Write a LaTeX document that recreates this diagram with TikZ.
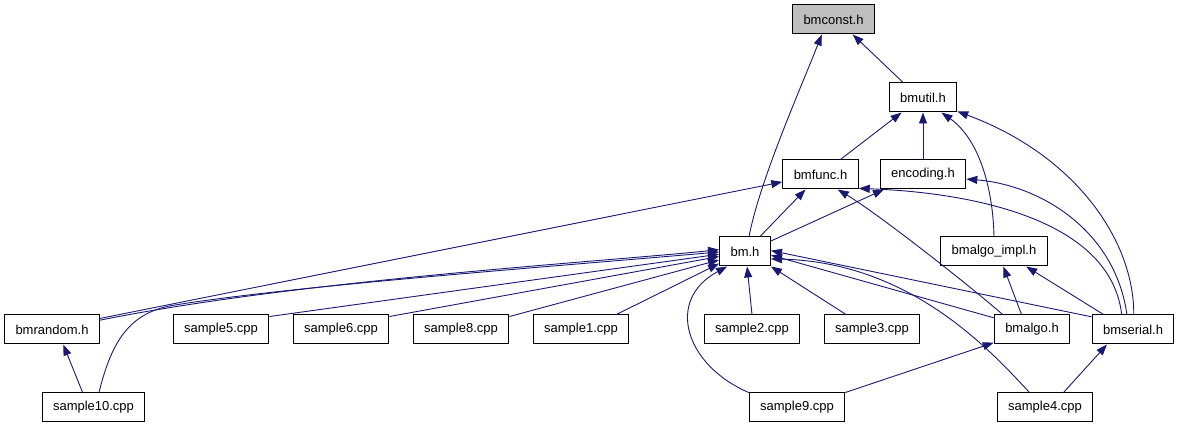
\documentclass[tikz,border=0pt]{standalone}
\usepackage{fontspec}
\setmainfont{Liberation Sans}
\usepackage{xcolor}
\usepackage{tikz}
\usetikzlibrary{arrows.meta}

\definecolor{edgeblue}{RGB}{25,25,112}
\definecolor{rootgray}{RGB}{191,191,191}

\begin{document}
\begin{tikzpicture}[x=1pt, y=-1pt, >={Triangle[length=11pt,width=8pt]},
    box/.style={draw=black, line width=1pt, fill=white, minimum height=29pt,
        inner xsep=11pt, inner ysep=0pt, font=\fontsize{13}{15}\selectfont},
    edge/.style={->, draw=edgeblue, line width=0.9pt}]
    \useasboundingbox (0,0) rectangle (1179,427);

    % 1. Các nút
    \node[box, fill=rootgray] (bmconst) at (833.5,19.5) {bmconst.h};
    \node[box] (bmutil) at (923,97.5) {bmutil.h};
    \node[box] (bmfunc) at (820.5,174.5) {bmfunc.h};
    \node[box] (encoding) at (923,174.5) {encoding.h};
    \node[box] (bm) at (745,251.5) {bm.h};
    \node[box] (bmalgoimpl) at (994,251.5) {bmalgo\_impl.h};
    \node[box] (bmrandom) at (52,329.5) {bmrandom.h};
    \node[box] (sample5) at (221,329.5) {sample5.cpp};
    \node[box] (sample6) at (341,329.5) {sample6.cpp};
    \node[box] (sample8) at (461,329.5) {sample8.cpp};
    \node[box] (sample1) at (581,329.5) {sample1.cpp};
    \node[box] (sample2) at (752,329.5) {sample2.cpp};
    \node[box] (sample3) at (872,329.5) {sample3.cpp};
    \node[box] (bmalgo) at (1032,329.5) {bmalgo.h};
    \node[box] (bmserial) at (1133,329.5) {bmserial.h};
    \node[box] (sample10) at (93.5,407.5) {sample10.cpp};
    \node[box] (sample9) at (797,407.5) {sample9.cpp};
    \node[box] (sample4) at (1045,407.5) {sample4.cpp};

    % 2. Cạnh lên bmconst.h và bmutil.h
    \draw[edge] (bm.75) .. controls (760,180) and (800,90) .. (bmconst.-128);
    \draw[edge] (bmutil.143) -- (bmconst.-38);
    \draw[edge] (bmfunc.37) -- (bmutil.-145);
    \draw[edge] (encoding.north) -- (bmutil.south);
    \draw[edge] (bmalgoimpl.north) .. controls (993,190) and (980,140) .. (bmutil.-39);
    \draw[edge] (bmserial.87) .. controls (1134,240) and (1075,155) .. (bmutil.-22);

    % 3. Cạnh lên bmfunc.h và encoding.h
    \draw[edge] (bm.45) -- (bmfunc.-135);
    \draw[edge] (bm.22) -- (encoding.-159);
    \draw[edge] (bmrandom.13) -- (bmfunc.191);
    \draw[edge] (bmalgo.153) .. controls (975,290) and (880,215) .. (bmfunc.-41);
    \draw[edge] (bmserial.127) .. controls (1110,215) and (960,192) .. (bmfunc.-20);
    \draw[edge] (bmserial.112) .. controls (1115,230) and (1040,185) .. (encoding.-6);

    % 4. Cạnh lên bm.h
    \draw[edge] (bmrandom.11) .. controls (300,280) and (600,262) .. (bm.176);
    \draw[edge] (sample10.70) .. controls (112,340) and (130,312) .. (175,305)
        .. controls (300,285) and (560,266) .. (bm.181);
    \draw[edge] (sample5.15) -- (bm.186);
    \draw[edge] (sample6.15) -- (bm.191);
    \draw[edge] (sample8.15) -- (bm.198);
    \draw[edge] (sample1.23) -- (bm.205);
    \draw[edge] (sample2.north) -- (bm.-82);
    \draw[edge] (sample3.150) -- (bm.-30);
    \draw[edge] (bmalgo.163) -- (bm.-8);
    \draw[edge] (bmserial.163) -- (bm.2);
    \draw[edge] (sample9.north west) .. controls (685,365) and (665,300) .. (bm.-140);
    \draw[edge] (sample4.136) .. controls (990,350) and (910,262) .. (bm.-16);

    % 5. Các cạnh còn lại
    \draw[edge] (sample10.126) -- (bmrandom.-53);
    \draw[edge] (bmalgo.125) -- (bmalgoimpl.-58);
    \draw[edge] (bmserial.153) -- (bmalgoimpl.-25);
    \draw[edge] (sample9.north east) -- (bmalgo.-161);
    \draw[edge] (sample4.39) -- (bmserial.-150);
\end{tikzpicture}
\end{document}
